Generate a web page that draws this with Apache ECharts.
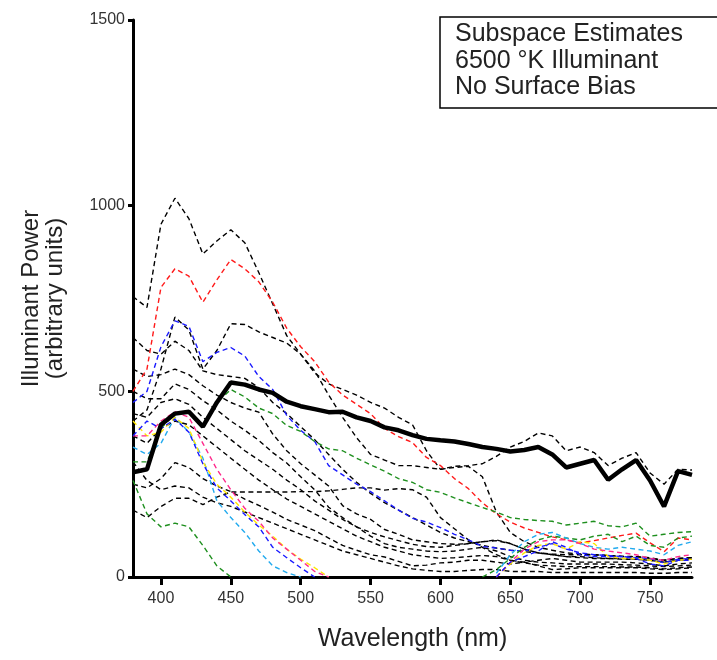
<!DOCTYPE html>
<html>
<head>
<meta charset="utf-8">
<script src="https://cdn.jsdelivr.net/npm/echarts@6/dist/echarts.min.js"></script>
<style>
	html, body { margin: 0; padding: 0; background: #fff; }
	#chart { width: 717px; height: 660px; }
</style>
</head>
<body>
<div id="chart"></div>
<script>
// wavelength grid (nm)
var wavelengths = []
for (var w = 380; w <= 780; w += 10) wavelengths.push(w)

var xTicks = [400, 450, 500, 550, 600, 650, 700, 750]

// true 6500K illuminant (thick line)
var trueIlluminant = [282,290,410,440,445,405,470,524,518,505,496,472,460,452,444,445,430,420,403,395,382,372,368,365,358,350,345,338,342,350,330,295,305,315,262,290,315,260,190,285,275]

// black dashed estimates
var black1 = [755,726,950,1020,965,870,905,935,900,820,735,650,600,550,520,505,490,470,455,430,410,340,290,298,300,305,325,350,365,388,380,340,350,335,300,320,335,280,250,290,288]
var black2 = [420,450,560,700,665,560,610,682,680,660,645,630,600,555,490,430,375,330,315,300,300,295,290,295,298,270,175,120,95,80,72,65,62,60,58,56,55,52,45,50,52]
var black3 = [645,610,600,635,610,555,545,540,535,510,470,440,405,370,330,290,255,225,200,180,160,140,120,105,95,85,78,72,68,65,62,60,60,60,58,55,55,50,45,50,52]
var black4 = [560,540,545,560,545,515,490,470,455,444,385,340,305,275,245,192,170,155,128,115,100,95,90,88,90,95,98,90,75,65,60,55,52,50,50,48,48,45,40,45,48]
var black5 = [500,480,480,520,505,475,450,420,395,368,335,307,270,235,188,160,135,110,90,80,75,70,68,70,75,80,70,55,45,40,38,35,35,35,35,33,32,30,28,30,32]
var black6 = [440,430,470,480,465,430,400,370,340,315,290,261,235,205,180,155,135,120,108,98,88,82,80,85,90,95,100,90,75,65,60,55,55,52,50,50,48,45,40,45,48]
var black7 = [380,360,400,420,410,380,350,320,290,261,235,210,190,170,150,130,110,95,80,70,60,55,50,52,55,58,55,45,38,32,30,28,28,28,28,27,27,25,22,25,27]
var black8 = [180,160,190,212,212,195,215,229,229,229,229,229,230,230,232,236,240,240,234,238,235,215,160,130,100,80,60,45,40,45,50,45,40,40,40,40,38,35,30,35,38]
var black9 = [250,240,265,308,295,265,245,230,210,193,175,155,140,125,105,85,72,60,54,42,30,32,38,40,45,45,40,35,40,30,20,22,25,25,25,25,25,22,20,22,25]
var black10 = [310,260,235,245,240,215,200,190,175,160,145,130,115,100,85,70,60,50,40,30,22,18,15,15,18,20,20,15,15,15,12,12,12,12,12,12,12,10,10,12,12]

// coloured dashed estimates
var redEst = [500,560,780,830,810,740,800,855,830,795,740,670,620,580,525,490,465,440,400,378,362,322,300,265,238,200,170,148,132,120,108,100,92,98,105,112,118,92,68,105,100]
var blueEst = [470,500,620,690,675,580,605,618,595,540,505,435,395,365,300,275,250,230,205,180,158,148,133,115,100,82,78,72,70,80,90,75,65,60,58,55,52,50,38,48,50]
var greenEst = [310,310,400,440,445,405,470,505,485,455,440,408,392,365,345,340,320,302,285,265,255,235,228,213,200,187,175,160,155,152,150,140,145,150,138,135,145,110,115,120,122]
var yellowEst = [420,380,390,430,400,310,250,215,175,140,110,75,48,25,0,null,null,null,null,null,null,null,null,null,null,null,0,35,65,85,90,75,95,90,55,50,50,45,35,45,48]
var magentaEst = [380,380,420,445,430,360,290,235,185,150,105,75,45,15,0,null,null,null,null,null,null,null,null,null,null,null,0,40,75,95,100,100,90,75,70,65,60,50,45,55,60]
var blue2Est = [380,420,400,425,390,305,240,205,168,135,80,52,25,0,null,null,null,null,null,null,null,null,null,null,null,null,0,40,55,70,95,80,60,55,55,55,50,35,30,45,45]
var cyanEst = [350,330,360,430,390,320,205,160,120,70,30,12,0,null,null,null,null,null,null,null,null,null,null,null,null,null,10,60,95,115,120,105,90,80,75,80,75,70,60,85,95]
var green2Est = [260,170,135,145,135,85,30,0,null,null,null,null,null,null,null,null,null,null,null,null,null,null,null,null,null,0,20,50,80,100,110,105,100,110,115,95,110,85,80,105,110]

function pairs(vals) {
	return wavelengths.map(function(x, i) { return [x, vals[i]] })
}

function dashed(vals, color) {
	return {
		type: 'line',
		data: pairs(vals),
		symbol: 'none',
		connectNulls: false,
		lineStyle: { color: color, width: 1.4, type: [5, 3.5] },
		z: 2
	}
}

var series = [
	dashed(black1, '#000'), dashed(black2, '#000'), dashed(black3, '#000'),
	dashed(black4, '#000'), dashed(black5, '#000'), dashed(black6, '#000'),
	dashed(black7, '#000'), dashed(black8, '#000'), dashed(black9, '#000'),
	dashed(black10, '#000'),
	dashed(redEst, '#ff1a1a'), dashed(blueEst, '#1a1aff'), dashed(greenEst, '#1e8f1e'),
	dashed(green2Est, '#1e8f1e'), dashed(cyanEst, '#22aaee'), dashed(yellowEst, '#ffe600'),
	dashed(magentaEst, '#ff2a8c'), dashed(blue2Est, '#1a1aff'),
	{
		type: 'line',
		data: pairs(trueIlluminant),
		symbol: 'none',
		lineStyle: { color: '#000', width: 4.5 },
		z: 5
	}
]

var chart = echarts.init(document.getElementById('chart'), null, { renderer: 'canvas' })

var option = {
	animation: false,
	backgroundColor: '#fff',
	textStyle: { fontFamily: 'Liberation Sans' },
	grid: { left: 133, right: 25, top: 20, bottom: 83 },
	xAxis: {
		type: 'value',
		min: 380,
		max: 780,
		name: 'Wavelength (nm)',
		nameLocation: 'middle',
		nameGap: 50,
		nameTextStyle: { fontSize: 25, color: '#222' },
		axisLine: { lineStyle: { color: '#000', width: 3 } },
		axisTick: { customValues: xTicks, length: 8, lineStyle: { color: '#000', width: 3 } },
		axisLabel: { customValues: xTicks, fontSize: 16, color: '#333', margin: 14 },
		splitLine: { show: false }
	},
	yAxis: {
		type: 'value',
		min: 0,
		max: 1500,
		interval: 500,
		name: 'Illuminant Power\n(arbitrary units)',
		nameLocation: 'middle',
		nameRotate: 90,
		nameGap: 66,
		nameTextStyle: { fontSize: 24, color: '#222', lineHeight: 24 },
		axisLine: { show: true, lineStyle: { color: '#000', width: 3 } },
		axisTick: { show: true, length: 5, lineStyle: { color: '#000', width: 3 } },
		axisLabel: {
			fontSize: 16, color: '#333', margin: 8,
			formatter: function(v) { return String(v) }
		},
		splitLine: { show: false }
	},
	graphic: [
		{
			type: 'rect',
			shape: { x: 440, y: 17, width: 300, height: 91 },
			style: { fill: '#fff', stroke: '#000', lineWidth: 1.5 },
			z: 10
		},
		{
			type: 'text',
			left: 455,
			top: 21,
			style: {
				text: 'Subspace Estimates\n6500 °K Illuminant\nNo Surface Bias',
				font: '25px "Liberation Sans"',
				lineHeight: 26.5,
				fill: '#222'
			},
			z: 11
		}
	],
	series: series
}

chart.setOption(option)
</script>
</body>
</html>
